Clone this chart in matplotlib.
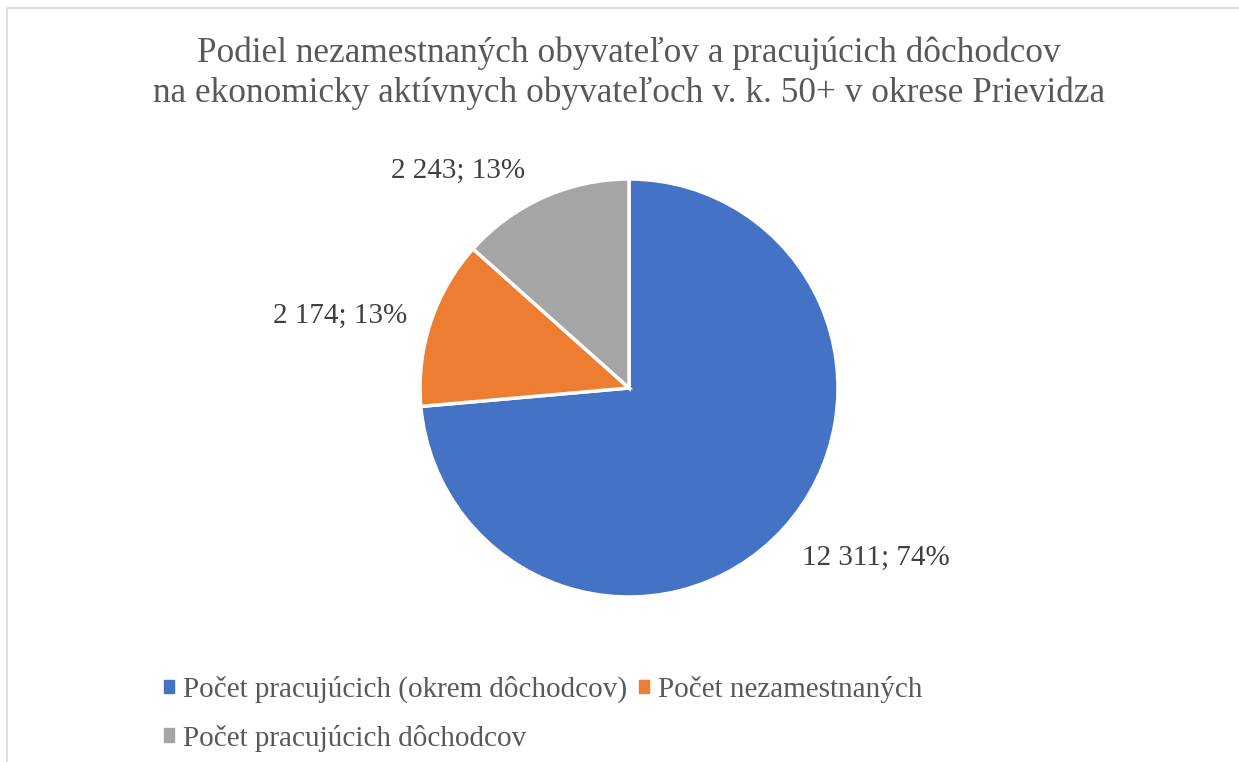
import matplotlib
matplotlib.use("Agg")
import matplotlib.pyplot as plt
import matplotlib.patches as mpatches

categories = ["Počet pracujúcich (okrem dôchodcov)", "Počet nezamestnaných", "Počet pracujúcich dôchodcov"]
values = [12311, 2174, 2243]
value_labels = ["12 311", "2 174", "2 243"]
percent_labels = ["74%", "13%", "13%"]
colors = ["#4472C4", "#ED7D31", "#A5A5A5"]
title = "Podiel nezamestnaných obyvateľov a pracujúcich dôchodcov\nna ekonomicky aktívnych obyvateľoch v. k. 50+ v okrese Prievidza"

plt.rcParams['font.family'] = ['Liberation Serif', 'DejaVu Serif']

W, H = 1239, 762
fig = plt.figure(figsize=(W / 100, H / 100), dpi=100)
fig.patch.set_facecolor("white")

# chart border (cropped at right/bottom)
fig.add_artist(mpatches.Rectangle((7 / W, -0.1), 1.2, (H - 8) / H + 0.1, transform=fig.transFigure,
                                  fill=False, edgecolor="#D9D9D9", linewidth=1.2))

fig.text(629 / W, 1 - 73 / H, title, ha="center", va="center", fontsize=25.4,
         color="#595959", linespacing=1.25)

cx, cy, r = 629, 388, 209
ax = fig.add_axes([(cx - r) / W, (H - cy - r) / H, 2 * r / W, 2 * r / H])
wedges, texts = ax.pie(values, colors=colors, startangle=90, counterclock=False,
                       wedgeprops=dict(edgecolor="white", linewidth=2.5),
                       labels=[f"{v}; {p}" for v, p in zip(value_labels, percent_labels)],
                       labeldistance=1.4,
                       textprops=dict(fontsize=21, color="#404040"))
# label positions (pixel offsets from centre, relative to radius)
label_pos = [(876, 558), (340, 316), (458, 171)]
for t, (px, py) in zip(texts, label_pos):
    t.set_position(((px - cx) / r, (cy - py) / r))
    t.set_ha("center")
    t.set_va("center")
ax.set_xlim(-1, 1)
ax.set_ylim(-1, 1)
ax.set_aspect("equal")
ax.axis("off")

order = [0, 2, 1]
handles = [mpatches.Patch(color=colors[i]) for i in order]
labels = [categories[i] for i in order]
leg = fig.legend(handles, labels, loc="upper left", bbox_to_anchor=(164 / W, 1 - 676 / H),
                 ncol=2, frameon=False, fontsize=21, handlelength=0.35, handleheight=0.35,
                 handletextpad=0.3, columnspacing=0.4, labelspacing=0.73, borderaxespad=0,
                 borderpad=0)
for t in leg.get_texts():
    t.set_color("#595959")

fig.savefig("out.png", dpi=100, facecolor="white")
